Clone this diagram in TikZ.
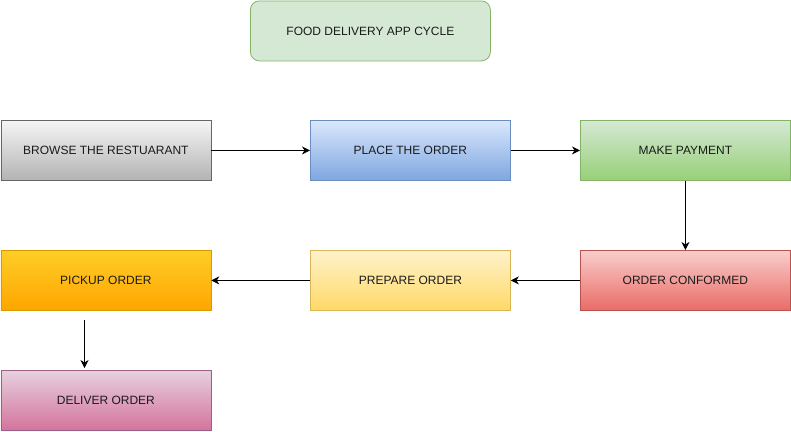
\documentclass[tikz,border=0pt]{standalone}
\usepackage{fontspec}
\setmainfont{Liberation Sans}
\usetikzlibrary{arrows.meta,positioning}
\definecolor{tfill}{HTML}{D5E8D4}\definecolor{tline}{HTML}{82B366}
\definecolor{gtop}{HTML}{F5F5F5}\definecolor{gbot}{HTML}{B3B3B3}\definecolor{gline}{HTML}{666666}
\definecolor{btop}{HTML}{DAE8FC}\definecolor{bbot}{HTML}{7EA6E0}\definecolor{bline}{HTML}{6C8EBF}
\definecolor{ntop}{HTML}{D5E8D4}\definecolor{nbot}{HTML}{97D077}\definecolor{nline}{HTML}{82B366}
\definecolor{rtop}{HTML}{F8CECC}\definecolor{rbot}{HTML}{EA6B66}\definecolor{rline}{HTML}{B85450}
\definecolor{ytop}{HTML}{FFF2CC}\definecolor{ybot}{HTML}{FFD966}\definecolor{yline}{HTML}{D6B656}
\definecolor{otop}{HTML}{FFCD28}\definecolor{obot}{HTML}{FFA500}\definecolor{oline}{HTML}{D79B00}
\definecolor{ptop}{HTML}{E6D0DE}\definecolor{pbot}{HTML}{D5739D}\definecolor{pline}{HTML}{996185}
\definecolor{txt}{HTML}{1A1A1A}
\begin{document}
\begin{tikzpicture}[x=1pt,y=-1pt,
  stepbox/.style={draw, line width=0.8pt, minimum height=60pt, inner sep=0pt, font=\fontsize{12}{14}\selectfont, text=txt, anchor=north west},
  wide/.style={minimum width=210pt},
  narrow/.style={minimum width=200pt},
  conn/.style={line width=0.8pt, -{Stealth[length=8pt,width=8pt,inset=2.5pt]}}]
\useasboundingbox (0,0) rectangle (791,431);
\node[stepbox, rounded corners=9pt, fill=tfill, draw=tline, minimum width=240pt] (title) at (250,0.5) {FOOD DELIVERY APP CYCLE};
\node[stepbox, wide, top color=gtop, bottom color=gbot, draw=gline] (browse) at (0.5,120) {BROWSE THE RESTUARANT};
\node[stepbox, narrow, top color=btop, bottom color=bbot, draw=bline] (place) at (310,120) {PLACE THE ORDER};
\node[stepbox, wide, top color=ntop, bottom color=nbot, draw=nline] (pay) at (580,120) {MAKE PAYMENT};
\node[stepbox, wide, top color=rtop, bottom color=rbot, draw=rline] (conf) at (580,250) {ORDER CONFORMED};
\node[stepbox, narrow, top color=ytop, bottom color=ybot, draw=yline] (prep) at (310,250) {PREPARE ORDER};
\node[stepbox, wide, top color=otop, bottom color=obot, draw=oline] (pick) at (0.5,250) {PICKUP ORDER};
\node[stepbox, wide, top color=ptop, bottom color=pbot, draw=pline] (deliv) at (0.5,370) {DELIVER ORDER};
\draw[conn] (browse) -- (place);
\draw[conn] (place) -- (pay);
\draw[conn] (pay) -- (conf);
\draw[conn] (conf) -- (prep);
\draw[conn] (prep) -- (pick);
\coordinate (pstart) at (84.5,320);
\draw[conn, shorten >=2pt] (pstart) -- (pstart |- deliv.north);
\end{tikzpicture}
\end{document}
